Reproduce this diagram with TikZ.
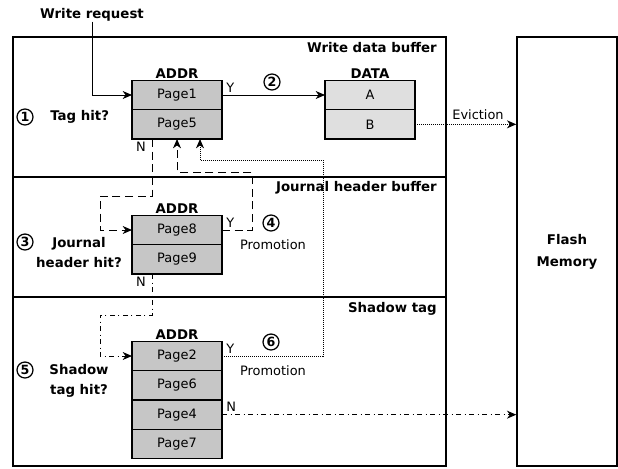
\documentclass[tikz,border=0pt]{standalone}
\usepackage{fontspec}
\setmainfont{DejaVu Sans}
\usetikzlibrary{arrows.meta,positioning}
\tikzset{
  cell/.style={draw, line width=0.9pt, fill=gray!45, minimum width=67.5pt, minimum height=22pt,
    inner sep=0pt, outer sep=0pt, font=\fontsize{9.7}{11}\selectfont},
  datacell/.style={cell, fill=gray!25},
  head/.style={font=\fontsize{10}{12}\selectfont\bfseries, inner sep=0pt},
  twoline/.style={head, align=center, font=\fontsize{10}{15}\selectfont\bfseries},
  txt/.style={font=\fontsize{9.7}{11}\selectfont, inner sep=0pt},
  num/.style={circle, draw, line width=0.95pt, inner sep=0pt, minimum size=12pt,
    font=\fontsize{9.5}{10}\selectfont\bfseries},
  conn/.style={line width=0.75pt, -{Stealth[length=7pt,width=6pt,inset=2.2pt]}},
  dashline/.style={dash pattern=on 6pt off 3.5pt},
  dotline/.style={dash pattern=on 0.75pt off 0.75pt},
  dotdash/.style={dash pattern=on 4pt off 2.5pt on 0.75pt off 2.5pt},
  panel/.style={line width=1.1pt}
}
\begin{document}
\begin{tikzpicture}[x=0.75pt,y=-0.75pt]
  \useasboundingbox (0,0) rectangle (618,468);
  % buffers
  \draw[panel] (13,37) rectangle (446,466);
  \draw[panel] (13,177) -- (446,177);
  \draw[panel] (13,297) -- (446,297);
  \node[draw, panel, minimum width=75pt, minimum height=321.75pt, align=center,
    font=\fontsize{10}{16.5}\selectfont\bfseries] (flash) at (567,251.5) {Flash\\Memory};
  \node[head, anchor=east] (t1) at (437,48) {Write data buffer};
  \node[head, anchor=east] (t2) at (437,188) {Journal header buffer};
  \node[head, anchor=east] (t3) at (437,309) {Shadow tag};
  \node[head] (wr) at (92,15) {Write request};

  % write data buffer
  \node[cell] (p1) at (177,95) {Page1};
  \node[cell, below=0pt of p1] (p5) {Page5};
  \node[head, above=1.5pt of p1] (addr1) {ADDR};
  \node[datacell] (a) at (370,95) {A};
  \node[datacell, below=0pt of a] (b) {B};
  \node[head, above=1.5pt of a] (data) {DATA};
  \node[num] (n1) at (25,117) {1};
  \node[head, anchor=west] (q1) at (50,117) {Tag hit?};
  \node[num] (n2) at (272,82) {2};
  \node[txt] (ev) at (478,115) {Eviction};

  % journal header buffer
  \node[cell] (p8) at (177,230) {Page8};
  \node[cell, below=0pt of p8] (p9) {Page9};
  \node[head, above=1.5pt of p8] (addr2) {ADDR};
  \node[num] (n3) at (25,242) {3};
  \node[twoline] (q3) at (79,253) {Journal\\header hit?};
  \node[num] (n4) at (271,223) {4};
  \node[txt] (pr4) at (273,245) {Promotion};

  % shadow tag
  \node[cell] (p2) at (177,356) {Page2};
  \node[cell, below=0pt of p2] (p6) {Page6};
  \node[cell, below=0pt of p6] (p4) {Page4};
  \node[cell, below=0pt of p4] (p7) {Page7};
  \node[head, above=1.5pt of p2] (addr3) {ADDR};
  \node[num] (n5) at (25,370) {5};
  \node[twoline] (q5) at (79,381) {Shadow\\tag hit?};
  \node[num] (n6) at (271,342) {6};
  \node[txt] (pr6) at (273,371) {Promotion};

  % Y / N
  \node[txt, anchor=south west, xshift=3pt, yshift=2pt] (y1) at (p1.east) {Y};
  \node[txt, anchor=south west, xshift=3pt, yshift=2pt] (y2) at (p8.east) {Y};
  \node[txt, anchor=south west, xshift=3pt, yshift=2pt] (y3) at (p2.east) {Y};
  \node[txt, anchor=south west, xshift=3pt, yshift=2pt] (no4) at (p4.east) {N};

  \coordinate (j1) at (152,196);
  \coordinate (j2) at (100,230);
  \coordinate (j3) at (252,172);
  \coordinate (s1) at (152,315);
  \coordinate (s2) at (100,356);
  \coordinate (s3) at (323,160);
  \coordinate (s4) at (200,140);
  \node[txt, anchor=north east, xshift=-4.5pt, yshift=-2pt] (no1) at (p5.south -| j1) {N};
  \node[txt, anchor=north east, xshift=-4.5pt, yshift=-2pt] (no2) at (p9.south -| s1) {N};

  % connectors
  \draw[conn] (wr.south) |- (p1.west);
  \draw[conn] (p1.east) -- (a.west);
  \draw[conn, dotline] (b.east) -- (b.east -| flash.west);
  \draw[conn, dashline] (p5.south -| j1) -- (j1) -| (j2) -- (p8.west);
  \draw[conn, dashline] (p8.east) -| (j3) -| (p5.south);
  \draw[conn, dotdash] (p9.south -| s1) -- (s1) -| (s2) -- (p2.west);
  \draw[conn, dotline] (p2.east) -| (s3) -| (s4 |- p5.south);
  \draw[conn, dotdash] (p4.east) -- (p4.east -| flash.west);
\end{tikzpicture}
\end{document}
